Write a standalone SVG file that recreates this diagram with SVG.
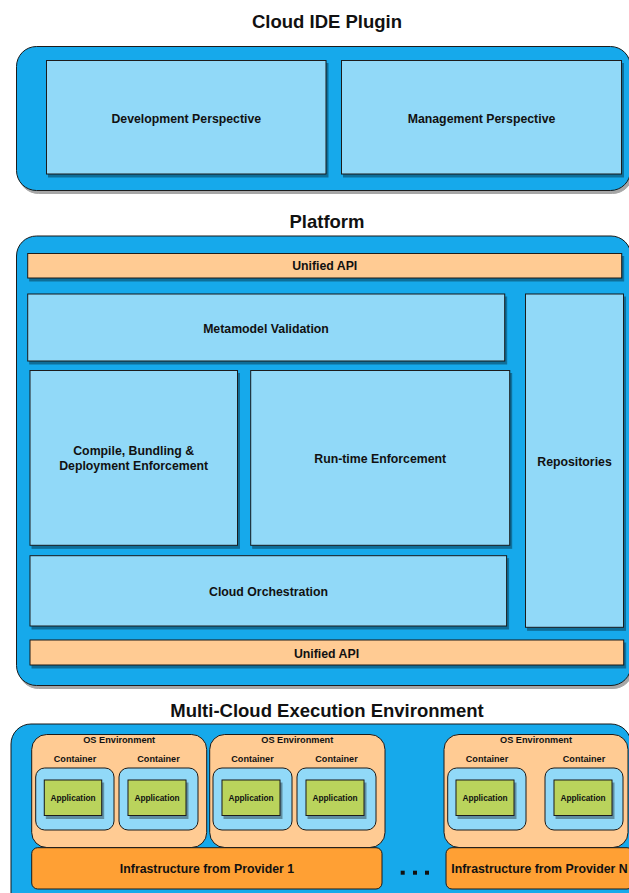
<svg xmlns="http://www.w3.org/2000/svg" width="629" height="893" viewBox="0 0 629 893">
  <defs>
    <filter id="shadow" x="-5%" y="-5%" width="115%" height="120%">
      <feGaussianBlur in="SourceAlpha" stdDeviation="0.6"/>
      <feOffset dx="2" dy="2.5" result="off"/>
      <feComponentTransfer><feFuncA type="linear" slope="0.35"/></feComponentTransfer>
      <feMerge><feMergeNode/><feMergeNode in="SourceGraphic"/></feMerge>
    </filter>
  </defs>
  <style>
    .outer { fill: #12a9eb; stroke: #1a1a1a; stroke-width: 1; filter: url(#shadow); }
    .box { fill: #91d9f8; stroke: #1a1a1a; stroke-width: 1; filter: url(#shadow); }
    .api { fill: #ffcb93; stroke: #1a1a1a; stroke-width: 1; filter: url(#shadow); }
    .os { fill: #ffcb93; stroke: #1a1a1a; stroke-width: 1; }
    .ctr { fill: #91d9f8; stroke: #1a1a1a; stroke-width: 1; }
    .app { fill: #bad35b; stroke: #1a1a1a; stroke-width: 1; filter: url(#shadow); }
    .infra { fill: #ffa034; stroke: #1a1a1a; stroke-width: 1; }
    text { font-family: "Liberation Sans", Arial, sans-serif; font-weight: bold; fill: #111; text-anchor: middle; }
    .title { font-size: 18.5px; }
    .lbl { font-size: 12.3px; }
    .os-lbl { font-size: 9.2px; }
    .ctr-lbl { font-size: 9.1px; }
    .app-lbl { font-size: 8.3px; }
  </style>

  <!-- Cloud IDE Plugin layer -->
  <text class="title" x="327" y="28.3">Cloud IDE Plugin</text>
  <g id="cloud-ide-plugin">
    <rect class="outer" x="16.5" y="46.5" width="614" height="144" rx="20"/>
  </g>
  <g id="development-perspective">
    <rect class="box" x="46.5" y="60.5" width="279.5" height="113.5"/>
    <text class="lbl" x="186.3" y="122.7">Development Perspective</text>
  </g>
  <g id="management-perspective">
    <rect class="box" x="341.5" y="60.5" width="280" height="113.5"/>
    <text class="lbl" x="481.5" y="122.7">Management Perspective</text>
  </g>

  <!-- Platform layer -->
  <text class="title" x="327" y="228.3">Platform</text>
  <g id="platform">
    <rect class="outer" x="16.5" y="236" width="614.5" height="449.5" rx="20"/>
  </g>
  <g id="unified-api-top">
    <rect class="api" x="27.7" y="253.5" width="594" height="24.5"/>
    <text class="lbl" x="324.7" y="270.4">Unified API</text>
  </g>
  <g id="metamodel-validation">
    <rect class="box" x="27.7" y="294" width="477" height="67"/>
    <text class="lbl" x="266" y="332.7">Metamodel Validation</text>
  </g>
  <g id="repositories">
    <rect class="box" x="525.5" y="294" width="98" height="333.3"/>
    <text class="lbl" x="574.5" y="465.7">Repositories</text>
  </g>
  <g id="compile-bundling-deployment">
    <rect class="box" x="30" y="370.5" width="207.5" height="174.8"/>
    <text class="lbl" x="133.7" y="455.4">Compile, Bundling &amp;</text>
    <text class="lbl" x="133.7" y="470.1">Deployment Enforcement</text>
  </g>
  <g id="runtime-enforcement">
    <rect class="box" x="250.7" y="370.5" width="259" height="174.8"/>
    <text class="lbl" x="380.2" y="463.1">Run-time Enforcement</text>
  </g>
  <g id="cloud-orchestration">
    <rect class="box" x="30" y="555.7" width="476.6" height="70.3"/>
    <text class="lbl" x="268.5" y="596.1">Cloud Orchestration</text>
  </g>
  <g id="unified-api-bottom">
    <rect class="api" x="30" y="640" width="593.7" height="25"/>
    <text class="lbl" x="326.5" y="657.7">Unified API</text>
  </g>

  <!-- Multi-Cloud Execution Environment layer -->
  <text class="title" x="327" y="716.6">Multi-Cloud Execution Environment</text>
  <g id="multi-cloud-environment">
    <rect class="outer" x="11" y="724" width="620" height="200" rx="20"/>
  </g>

  <g id="os-environment-1">
    <rect class="os" x="31.7" y="734.5" width="175" height="113" rx="15"/>
    <text class="os-lbl" x="119.2" y="743.3">OS Environment</text>
  </g>
  <g id="container-1a">
    <text class="ctr-lbl" x="75" y="762">Container</text>
    <rect class="ctr" x="35.7" y="768" width="78.3" height="62" rx="9"/>
    <rect class="app" x="44.3" y="780" width="57.4" height="35.5"/>
    <text class="app-lbl" x="73" y="800.7">Application</text>
  </g>
  <g id="container-1b">
    <text class="ctr-lbl" x="158.5" y="762">Container</text>
    <rect class="ctr" x="119" y="768" width="79" height="62" rx="9"/>
    <rect class="app" x="128" y="780" width="58" height="35.5"/>
    <text class="app-lbl" x="157" y="800.7">Application</text>
  </g>

  <g id="os-environment-2">
    <rect class="os" x="209.7" y="734.5" width="175.3" height="113" rx="15"/>
    <text class="os-lbl" x="297.3" y="743.3">OS Environment</text>
  </g>
  <g id="container-2a">
    <text class="ctr-lbl" x="252.5" y="762">Container</text>
    <rect class="ctr" x="213" y="768" width="79" height="62" rx="9"/>
    <rect class="app" x="222" y="780" width="58" height="35.5"/>
    <text class="app-lbl" x="251" y="800.7">Application</text>
  </g>
  <g id="container-2b">
    <text class="ctr-lbl" x="336.5" y="762">Container</text>
    <rect class="ctr" x="297" y="768" width="79" height="62" rx="9"/>
    <rect class="app" x="306" y="780" width="58" height="35.5"/>
    <text class="app-lbl" x="335" y="800.7">Application</text>
  </g>

  <g id="os-environment-n">
    <rect class="os" x="444" y="734.5" width="184" height="113" rx="15"/>
    <text class="os-lbl" x="536" y="743.3">OS Environment</text>
  </g>
  <g id="container-na">
    <text class="ctr-lbl" x="487" y="762">Container</text>
    <rect class="ctr" x="447.7" y="768" width="78.3" height="62" rx="9"/>
    <rect class="app" x="456" y="780" width="58" height="35.5"/>
    <text class="app-lbl" x="485" y="800.7">Application</text>
  </g>
  <g id="container-nb">
    <text class="ctr-lbl" x="584" y="762">Container</text>
    <rect class="ctr" x="545" y="768" width="78" height="62" rx="9"/>
    <rect class="app" x="554" y="780" width="58" height="35.5"/>
    <text class="app-lbl" x="583" y="800.7">Application</text>
  </g>

  <g id="infrastructure-provider-1">
    <rect class="infra" x="31.7" y="847.7" width="350.3" height="41.3" rx="6"/>
    <text class="lbl" x="207" y="873.4">Infrastructure from Provider 1</text>
  </g>
  <g id="ellipsis">
    <rect x="400.7" y="870.7" width="4" height="4" fill="#111"/>
    <rect x="413" y="870.7" width="4" height="4" fill="#111"/>
    <rect x="425" y="870.7" width="4" height="4" fill="#111"/>
  </g>
  <g id="infrastructure-provider-n">
    <rect class="infra" x="446" y="847.7" width="187" height="41.3" rx="6"/>
    <text class="lbl" x="539.5" y="873.4">Infrastructure from Provider N</text>
  </g>
</svg>
